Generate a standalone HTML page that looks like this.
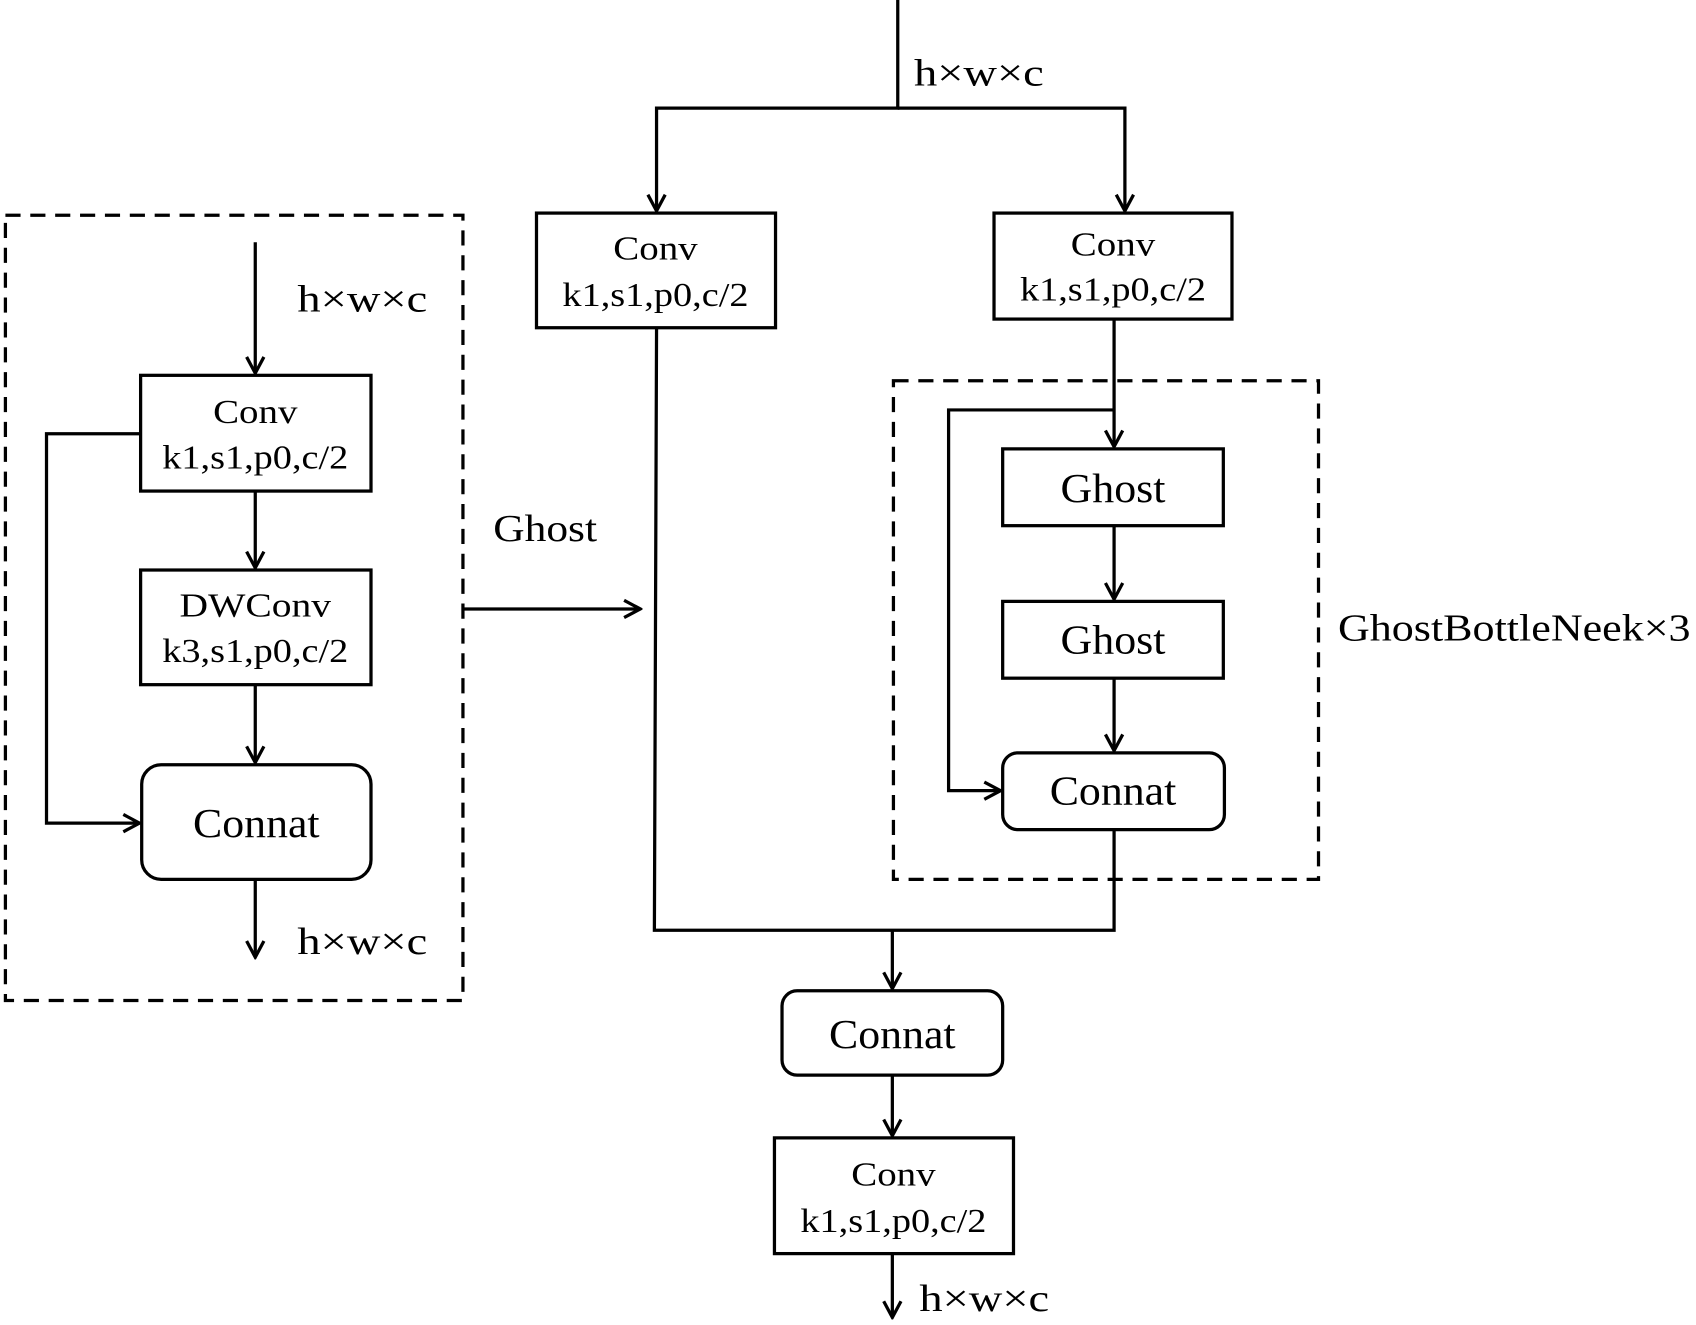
<!DOCTYPE html>
<html><head><meta charset="utf-8"><style>html,body{margin:0;padding:0;background:#fff}svg{display:block}</style></head>
<body>
<svg width="1696" height="1325" viewBox="0 0 1568 1225" xmlns="http://www.w3.org/2000/svg" font-family="'Liberation Serif',serif" fill="none" stroke="#000" stroke-width="3">
<defs><marker id="a" viewBox="0 0 20 20" refX="18" refY="10" markerWidth="20" markerHeight="20" markerUnits="userSpaceOnUse" orient="auto"><path d="M3,2 L18,10 L3,18" fill="none" stroke="#000" stroke-width="3"/></marker></defs>
<g stroke-dasharray="14,9">
<rect x="5" y="199" width="423" height="726"/>
<rect x="826" y="352" width="393" height="461"/>
</g>
<g>
<rect x="130" y="347" width="213" height="107"/>
<rect x="130" y="527" width="213" height="106"/>
<rect x="131" y="707" width="212" height="106" rx="18"/>
<rect x="496" y="197" width="221" height="106"/>
<rect x="919" y="197" width="220" height="98"/>
<rect x="927" y="415" width="204" height="71"/>
<rect x="927" y="556" width="204" height="71"/>
<rect x="927" y="696" width="205" height="71" rx="14"/>
<rect x="723" y="916" width="204" height="78" rx="14"/>
<rect x="716" y="1052" width="221" height="107"/>
</g>
<g marker-end="url(#a)">
<path d="M236,224 V345"/>
<path d="M236,454 V525"/>
<path d="M236,633 V705"/>
<path d="M130,401 H43 V761 H129"/>
<path d="M236,813 V885"/>
<path d="M428,563 H592"/>
<path d="M830,0 V100 H607 V195"/>
<path d="M830,100 H1040 V195"/>
<path d="M1030,295 V413"/>
<path d="M1030,379 H877 V731 H925"/>
<path d="M1030,486 V554"/>
<path d="M1030,627 V694"/>
<path d="M825,860 V914"/>
<path d="M825,994 V1050"/>
<path d="M825,1159 V1218"/>
</g>
<path d="M607,303 L605,860 H1030 V767"/>
<g fill="#000" stroke="none" text-anchor="middle" font-size="31" lengthAdjust="spacingAndGlyphs">
<text x="236" y="391" textLength="78" lengthAdjust="spacingAndGlyphs">Conv</text><text x="236" y="433" textLength="172" lengthAdjust="spacingAndGlyphs">k1,s1,p0,c/2</text>
<text x="236" y="570" textLength="140" lengthAdjust="spacingAndGlyphs">DWConv</text><text x="236" y="612" textLength="172" lengthAdjust="spacingAndGlyphs">k3,s1,p0,c/2</text>
<text x="606" y="240" textLength="78" lengthAdjust="spacingAndGlyphs">Conv</text><text x="606" y="283" textLength="172" lengthAdjust="spacingAndGlyphs">k1,s1,p0,c/2</text>
<text x="1029" y="236" textLength="78" lengthAdjust="spacingAndGlyphs">Conv</text><text x="1029" y="278" textLength="172" lengthAdjust="spacingAndGlyphs">k1,s1,p0,c/2</text>
<text x="826" y="1096" textLength="78" lengthAdjust="spacingAndGlyphs">Conv</text><text x="826" y="1139" textLength="172" lengthAdjust="spacingAndGlyphs">k1,s1,p0,c/2</text>
<g font-size="38">
<text x="237" y="774" textLength="117" lengthAdjust="spacingAndGlyphs">Connat</text>
<text x="1029" y="464" textLength="97" lengthAdjust="spacingAndGlyphs">Ghost</text>
<text x="1029" y="604" textLength="97" lengthAdjust="spacingAndGlyphs">Ghost</text>
<text x="1029" y="744" textLength="117" lengthAdjust="spacingAndGlyphs">Connat</text>
<text x="825" y="969" textLength="117" lengthAdjust="spacingAndGlyphs">Connat</text>
</g>
</g>
<g fill="#000" stroke="none" font-size="35">
<text x="275" y="288" textLength="120" lengthAdjust="spacingAndGlyphs">h×w×c</text>
<text x="275" y="882" textLength="120" lengthAdjust="spacingAndGlyphs">h×w×c</text>
<text x="456" y="500" textLength="96" lengthAdjust="spacingAndGlyphs">Ghost</text>
<text x="845" y="79" textLength="120" lengthAdjust="spacingAndGlyphs">h×w×c</text>
<text x="850" y="1212" textLength="120" lengthAdjust="spacingAndGlyphs">h×w×c</text>
<text x="1237" y="592" textLength="326" lengthAdjust="spacingAndGlyphs">GhostBottleNeek×3</text>
</g>
</svg>
</body></html>
